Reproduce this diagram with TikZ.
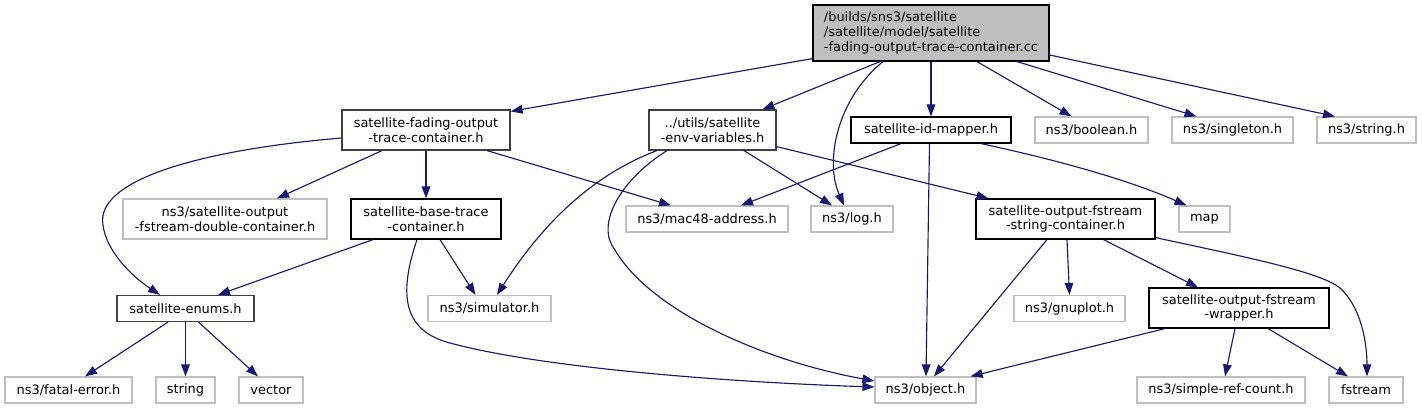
\documentclass[tikz,border=0pt]{standalone}
\usepackage{fontspec}
\setmainfont{DejaVu Sans}
\usetikzlibrary{arrows.meta,calc}
\definecolor{edgeblue}{HTML}{191970}
\definecolor{extgray}{HTML}{BFBFBF}
\definecolor{rootgray}{HTML}{BFBFBF}
\definecolor{darkborder}{HTML}{404040}
\begin{document}
\begin{tikzpicture}[x=0.75pt,y=-0.75pt,
  nodebase/.style={inner sep=0pt, align=center, font=\fontsize{9.7}{11}\selectfont, line width=0.9pt, fill=white},
  docbox/.style={nodebase, draw=black},
  greybox/.style={nodebase, draw=darkborder},
  extbox/.style={nodebase, draw=extgray},
  rootbox/.style={nodebase, draw=black, fill=rootgray, align=left},
  edge/.style={draw=edgeblue, line width=0.85pt, -{Triangle[length=9pt,width=6.5pt]}}]
\fill[white] (0,0) rectangle (1422,409);
\useasboundingbox (0,0) rectangle (1422,409);

% row 1
\node[rootbox, minimum width=177pt, minimum height=42pt] (root) at (931,33)
  {/builds/sns3/satellite\\/satellite/model/satellite\\-fading-output-trace-container.cc};
% row 2
\node[greybox, minimum width=126pt, minimum height=30pt] (fading) at (426,130) {satellite-fading-output\\-trace-container.h};
\node[greybox, minimum width=95.25pt, minimum height=30pt] (env) at (712.5,130) {../utils/satellite\\-env-variables.h};
\node[docbox, minimum width=120pt, minimum height=19.5pt] (idmap) at (931,130) {satellite-id-mapper.h};
\node[extbox, minimum width=84.75pt, minimum height=19.5pt] (boolean) at (1091.5,130) {ns3/boolean.h};
\node[extbox, minimum width=90.75pt, minimum height=19.5pt] (singleton) at (1232.5,130) {ns3/singleton.h};
\node[extbox, minimum width=74.25pt, minimum height=19.5pt] (nsstring) at (1366.5,130) {ns3/string.h};
% row 3
\node[extbox, minimum width=153pt, minimum height=30pt] (double) at (225,219) {ns3/satellite-output\\-fstream-double-container.h};
\node[docbox, minimum width=112.5pt, minimum height=30pt] (base) at (426,219) {satellite-base-trace\\-container.h};
\node[extbox, minimum width=121.5pt, minimum height=19.5pt] (mac48) at (707,219) {ns3/mac48-address.h};
\node[extbox, minimum width=61.5pt, minimum height=19.5pt] (log) at (852,219) {ns3/log.h};
\node[docbox, minimum width=134.25pt, minimum height=30pt] (strcont) at (1065.5,219) {satellite-output-fstream\\-string-container.h};
\node[extbox, minimum width=38.25pt, minimum height=19.5pt] (map) at (1204.5,219) {map};
% row 4
\node[greybox, minimum width=102.75pt, minimum height=19.5pt] (enums) at (185.5,308.5) {satellite-enums.h};
\node[extbox, minimum width=92.25pt, minimum height=19.5pt] (simulator) at (489.5,308.5) {ns3/simulator.h};
\node[extbox, minimum width=83.25pt, minimum height=19.5pt] (gnuplot) at (1069.5,308.5) {ns3/gnuplot.h};
\node[docbox, minimum width=135pt, minimum height=30pt] (wrapper) at (1239,308) {satellite-output-fstream\\-wrapper.h};
% row 5
\node[extbox, minimum width=95.25pt, minimum height=19.5pt] (fatal) at (68.5,390) {ns3/fatal-error.h};
\node[extbox, minimum width=44.25pt, minimum height=19.5pt] (string) at (185.5,390) {string};
\node[extbox, minimum width=48pt, minimum height=19.5pt] (vector) at (271,390) {vector};
\node[extbox, minimum width=75.75pt, minimum height=19.5pt] (object) at (925.5,390) {ns3/object.h};
\node[extbox, minimum width=126pt, minimum height=19.5pt] (simpleref) at (1221,390) {ns3/simple-ref-count.h};
\node[extbox, minimum width=55.5pt, minimum height=19.5pt] (fstream) at (1366,390) {fstream};

% root edges
\draw[edge] ($(root.south west)+(0,-3)$) -- ($(fading.north east)+(0,2)$);
\draw[edge] ($(root.south)+(-51,0)$) -- ($(env.north)+(50,0)$);
\draw[edge] ($(root.south)+(-48,0)$) .. controls (838,98) and (824,160) .. ($(log.north)+(-8,0)$);
\draw[edge] (root.south) -- (idmap.north);
\draw[edge] ($(root.south)+(46,0)$) -- ($(boolean.north)+(-20,0)$);
\draw[edge] ($(root.south)+(86,0)$) -- ($(singleton.north)+(-36,0)$);
\draw[edge] ($(root.east)+(0,22)$) -- ($(nsstring.north)+(-31.5,0)$);
% fading edges
\draw[edge] ($(fading.west)+(0,8)$) .. controls (200,150) and (95,180) .. (103,225) .. controls (106,250) and (130,275) .. ($(enums.north)+(-25.5,0)$);
\draw[edge] ($(fading.south)+(-44,0)$) -- ($(double.north)+(52,0)$);
\draw[edge] (fading.south) -- (base.north);
\draw[edge] ($(fading.south)+(61,0)$) -- ($(mac48.north)+(-36,0)$);
% env edges
\draw[edge] ($(env.south)+(-55.5,0)$) .. controls (600,172) and (548,215) .. ($(simulator.north)+(7.5,0)$);
\draw[edge] ($(env.south)+(-45.5,0)$) .. controls (620,180) and (595,225) .. (615,250) .. controls (650,310) and (760,360) .. ($(object.west)+(0,-9)$);
\draw[edge] ($(env.south)+(31.5,0)$) -- ($(log.north)+(-20,0)$);
\draw[edge] ($(env.south east)+(0,-4)$) -- ($(strcont.north)+(-77,0)$);
% id-mapper edges
\draw[edge] ($(idmap.south)+(-30,0)$) -- ($(mac48.north)+(34,0)$);
\draw[edge] ($(idmap.south)+(-1.5,0)$) -- ($(object.north)+(0.5,0)$);
\draw[edge] ($(idmap.south)+(50,0)$) .. controls (1080,165) and (1140,185) .. ($(map.north)+(-18,0)$);
% base edges
\draw[edge] ($(base.south)+(-53,0)$) -- ($(enums.north)+(32.5,0)$);
\draw[edge] ($(base.south)+(14,0)$) -- ($(simulator.north)+(-14,0)$);
\draw[edge] ($(base.south)+(-9,0)$) .. controls (400,290) and (400,330) .. (450,343) .. controls (550,370) and (750,383) .. ($(object.west)+(0,-3)$);
% string container edges
\draw[edge] ($(strcont.south)+(-18.5,0)$) -- ($(object.north)+(8.5,0)$);
\draw[edge] ($(strcont.south)+(1.5,0)$) -- (gnuplot.north);
\draw[edge] ($(strcont.south)+(38,0)$) -- ($(wrapper.north)+(-41,0)$);
\draw[edge] ($(strcont.south east)+(0,-2)$) .. controls (1250,258) and (1320,272) .. (1340,288) .. controls (1362,308) and (1367,345) .. ($(fstream.north)+(1,0)$);
% wrapper edges
\draw[edge] ($(wrapper.south)+(-74,0)$) -- ($(object.north east)+(-6,0)$);
\draw[edge] ($(wrapper.south)+(-4,0)$) -- ($(simpleref.north)+(4,0)$);
\draw[edge] ($(wrapper.south)+(29,0)$) -- ($(fstream.north)+(-18,0)$);
% enums edges
\draw[edge] ($(enums.south)+(-17.5,0)$) -- ($(fatal.north)+(16.5,0)$);
\draw[edge] (enums.south) -- (string.north);
\draw[edge] ($(enums.south)+(13,0)$) -- ($(vector.north)+(-13,0)$);
\end{tikzpicture}
\end{document}
